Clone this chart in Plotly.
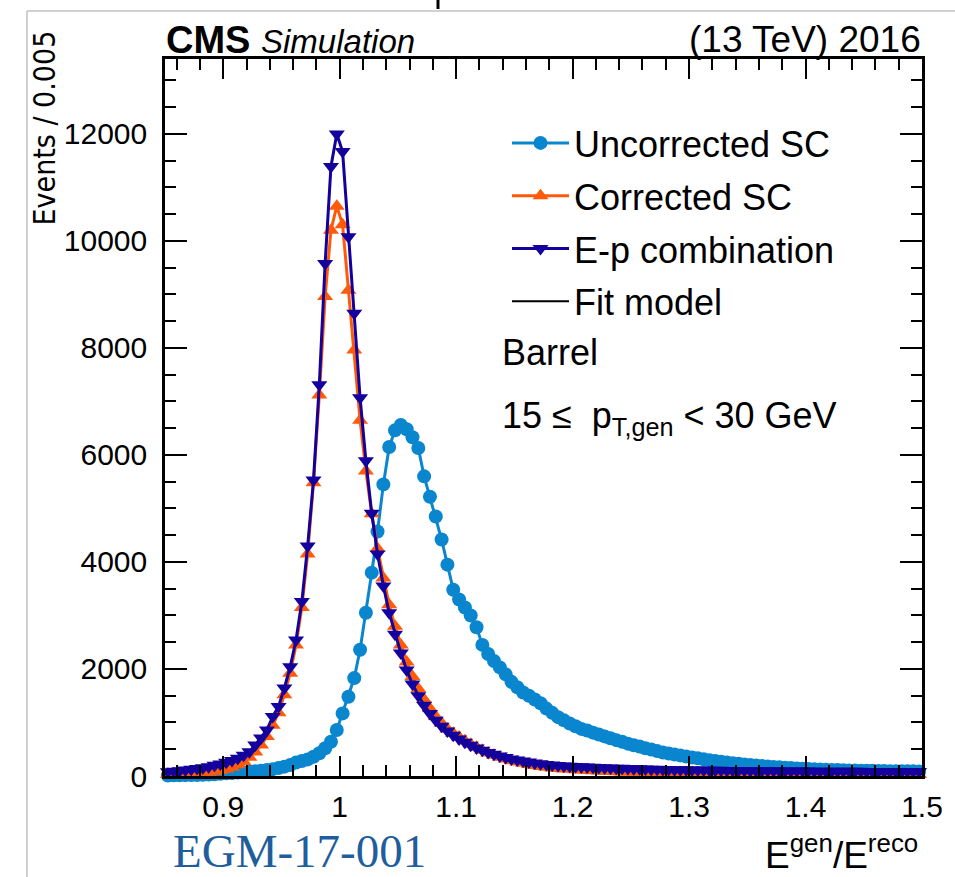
import plotly.graph_objects as go

# ---------------- data ----------------
bin_lo, bin_hi, bin_w = 0.85, 1.5, 0.005
n_bins = 130
bin_centers = [round(bin_lo + bin_w * (i + 0.5), 4) for i in range(n_bins)]

uncorrected_sc = [
    10, 12, 14, 16, 18, 20, 23, 27, 32, 40,
    50, 56, 64, 72, 80, 90, 100, 112, 128, 150,
    175, 205, 250, 280, 310, 360, 424, 518, 641, 860,
    1170, 1480, 1830, 2360, 3050, 3800, 4570, 5450, 6150, 6460,
    6560, 6480, 6330, 6130, 5600, 5220, 4850, 4420, 3950, 3480,
    3300, 3150, 3000, 2780, 2450, 2280, 2150, 2030, 1900, 1760,
    1660, 1560, 1500, 1430, 1360, 1260, 1180, 1100, 1040, 980,
    930, 880, 850, 810, 775, 740, 705, 670, 640, 605,
    575, 550, 520, 495, 465, 440, 420, 400, 385, 365,
    345, 330, 312, 295, 280, 265, 252, 240, 228, 216,
    206, 196, 187, 178, 170, 162, 155, 148, 142, 136,
    131, 126, 122, 118, 114, 111, 108, 105, 102, 100,
    98, 96, 94, 92, 91, 90, 89, 88, 87, 86,
]

corrected_sc = [
    32, 34, 37, 41, 46, 52, 60, 70, 85, 105,
    130, 165, 210, 270, 350, 450, 580, 740, 950, 1180,
    1520, 1920, 2450, 3150, 4150, 5480, 7120, 8960, 10200, 10650,
    10300, 9080, 7960, 6650, 5700, 4900, 4250, 3700, 3200, 2800,
    2450, 2130, 1860, 1630, 1430, 1260, 1110, 990, 880, 800,
    730, 660, 595, 535, 480, 430, 388, 350, 316, 286,
    260, 236, 215, 196, 179, 164, 151, 140, 133, 127,
    119, 112, 105, 99, 94, 89, 85, 81, 77, 74,
    71, 68, 65, 63, 61, 59, 57, 55, 53, 52,
    50, 49, 48, 47, 46, 45, 44, 43, 42, 41,
    41, 40, 39, 39, 38, 38, 37, 37, 36, 36,
    35, 35, 35, 34, 34, 34, 33, 33, 33, 32,
    32, 32, 31, 31, 31, 30, 30, 30, 30, 29,
]

ep_combination = [
    80, 90, 100, 110, 125, 140, 155, 175, 200, 225,
    255, 290, 330, 390, 455, 580, 710, 860, 1110, 1300,
    1645, 2040, 2540, 3260, 4300, 5530, 7310, 9580, 11390, 12000,
    11670, 10080, 8650, 7070, 5890, 4910, 4150, 3550, 3050, 2650,
    2300, 1980, 1720, 1500, 1320, 1170, 1040, 930, 840, 760,
    690, 630, 575, 525, 480, 440, 405, 375, 345, 320,
    298, 278, 260, 244, 230, 217, 205, 195, 188, 182,
    177, 172, 168, 164, 159, 155, 151, 147, 143, 140,
    137, 134, 131, 128, 125, 123, 121, 119, 117, 115,
    113, 111, 110, 108, 107, 106, 104, 103, 102, 101,
    100, 99, 98, 97, 96, 95, 95, 94, 93, 92,
    92, 91, 90, 90, 89, 89, 88, 88, 87, 87,
    86, 86, 85, 85, 84, 84, 84, 83, 83, 83,
]

series_names = ["Uncorrected SC", "Corrected SC", "E-p combination"]
x_tick_vals = [0.9, 1.0, 1.1, 1.2, 1.3, 1.4, 1.5]
x_tick_text = ["0.9", "1", "1.1", "1.2", "1.3", "1.4", "1.5"]
y_tick_vals = [0, 2000, 4000, 6000, 8000, 10000, 12000]
y_tick_text = ["0", "2000", "4000", "6000", "8000", "10000", "12000"]

# ---------------- styling ----------------
W, H = 955, 877
L, R, T, B = 165, 922, 59, 776
col_unc = "#0a86cf"
col_cor = "#ff5a0a"
col_ep = "#14009c"
FONT = "Liberation Sans, Arial, Helvetica, sans-serif"
NARROW = "Liberation Sans Narrow, DejaVu Sans Condensed, Roboto Condensed, Liberation Sans, sans-serif"


def px(x):
    return (x - L) / (R - L)


def py(y):
    return (B - y) / (B - T)


fig = go.Figure()

fig.add_trace(go.Scatter(
    x=bin_centers, y=uncorrected_sc, name=series_names[0], mode="lines+markers",
    line=dict(color=col_unc, width=3),
    marker=dict(symbol="circle", size=14, color=col_unc),
    cliponaxis=False, legendgroup="a",
))
fig.add_trace(go.Scatter(
    x=bin_centers, y=corrected_sc, name=series_names[1], mode="lines+markers",
    line=dict(color=col_cor, width=3),
    marker=dict(symbol="triangle-up", size=14, color=col_cor),
    cliponaxis=False, legendgroup="b",
))
fig.add_trace(go.Scatter(
    x=bin_centers, y=ep_combination, name=series_names[2], mode="lines+markers",
    line=dict(color=col_ep, width=3),
    marker=dict(symbol="triangle-down", size=14, color=col_ep),
    cliponaxis=False, legendgroup="c",
))
fig.add_trace(go.Scatter(
    x=[None], y=[None], name="Fit model", mode="lines",
    line=dict(color="black", width=2), legendgroup="d",
))

axis_common = dict(
    showline=True, linewidth=2.5, linecolor="black", mirror="allticks",
    ticks="inside", tickcolor="black", tickwidth=2,
    showgrid=False, zeroline=False,
    tickfont=dict(family=FONT, size=30, color="black"),
)

fig.update_xaxes(
    range=[bin_lo, bin_hi], tickvals=x_tick_vals, ticktext=x_tick_text,
    ticklen=20, ticklabelstandoff=2,
    minor=dict(dtick=0.02, tick0=0.9, ticklen=11, tickwidth=2, tickcolor="black", ticks="inside"),
    **axis_common,
)
fig.update_yaxes(
    range=[0, 13400], tickvals=y_tick_vals, ticktext=y_tick_text,
    ticklen=22, ticklabelstandoff=9,
    minor=dict(dtick=500, tick0=0, ticklen=11, tickwidth=2, tickcolor="black", ticks="inside"),
    **axis_common,
)

annotations = [
    dict(text="<b>CMS</b> <i><span style='font-size:33px'>Simulation</span></i>",
         x=px(164), y=py(40), xanchor="left", yanchor="middle",
         font=dict(family=FONT, size=38, color="black")),
    dict(text="(13 TeV) 2016", x=px(923), y=py(40), xanchor="right", yanchor="middle",
         font=dict(family=FONT, size=37, color="black")),
    dict(text="Events / 0.005", textangle=-90, x=px(44), y=py(28), xanchor="center", yanchor="top",
         font=dict(family=NARROW, size=30, color="black")),
    dict(text="E<sup>gen</sup>/E<sup>reco</sup>", x=px(920), y=py(852), xanchor="right", yanchor="middle",
         font=dict(family=FONT, size=37, color="black")),
    dict(text="EGM-17-001", x=px(171), y=py(851), xanchor="left", yanchor="middle",
         font=dict(family="Liberation Serif, Times New Roman, serif", size=47, color="#1f5e9c")),
    dict(text="Barrel", x=px(500), y=py(352), xanchor="left", yanchor="middle",
         font=dict(family=FONT, size=36, color="black")),
    dict(text="15 ≤  p<sub>T,gen</sub> < 30 GeV", x=px(500), y=py(418), xanchor="left", yanchor="middle",
         font=dict(family=FONT, size=36, color="black")),
]
for a in annotations:
    a.update(xref="paper", yref="paper", showarrow=False)

shapes = [
    dict(type="line", xref="paper", yref="paper", x0=px(27), x1=px(960), y0=py(11), y1=py(11),
         line=dict(color="#d0d0d0", width=2)),
    dict(type="line", xref="paper", yref="paper", x0=px(27), x1=px(27), y0=py(11), y1=py(880),
         line=dict(color="#d0d0d0", width=2)),
    dict(type="line", xref="paper", yref="paper", x0=px(438), x1=px(438), y0=py(-2), y1=py(9),
         line=dict(color="black", width=3)),
]

fig.update_layout(
    width=W, height=H,
    margin=dict(l=L, r=W - R, t=T, b=H - B, pad=0),
    paper_bgcolor="white", plot_bgcolor="white",
    showlegend=True,
    legend=dict(
        x=px(507), y=py(113), xanchor="left", yanchor="top",
        font=dict(family=FONT, size=36, color="black"),
        bgcolor="rgba(0,0,0,0)", borderwidth=0,
        itemwidth=57, tracegroupgap=3, traceorder="grouped",
    ),
    annotations=annotations, shapes=shapes,
)

fig.write_html("out.html")
